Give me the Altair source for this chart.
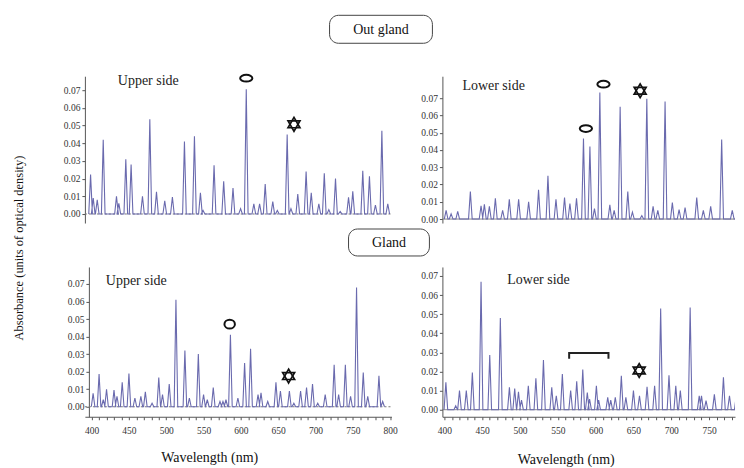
import altair as alt
import pandas as pd

# ---------------- data (wavelength nm, absorbance) ----------------
# Out gland - upper side
tl_wl = [403.5, 407, 412.3, 420.2, 437.7, 440.8, 450, 457, 472, 481.7, 490.5, 501.4, 511.5,
         527.4, 540.6, 548.5, 552, 566.5, 579.2, 591.5, 601.5, 609, 619, 626.6, 634, 644, 650,
         663, 668, 677, 688, 694.8, 704.8, 712, 718, 726.8, 733, 744, 749.6, 762.8, 771.6,
         779.5, 788, 795.8]
tl_ab = [0.0223, 0.009, 0.008, 0.042, 0.010, 0.006, 0.031, 0.028, 0.010, 0.0535, 0.0125, 0.0075,
         0.0096, 0.041, 0.044, 0.012, 0.002, 0.0276, 0.0185, 0.0147, 0.003, 0.0705, 0.0057, 0.0057,
         0.017, 0.007, 0.002, 0.045, 0.003, 0.0113, 0.024, 0.012, 0.0057, 0.023, 0.0025, 0.020,
         0.0015, 0.0095, 0.0128, 0.0245, 0.0213, 0.005, 0.047, 0.0057]

# Out gland - lower side
tr_wl = [400.9, 407.5, 416.2, 432.9, 447, 451.4, 458, 465.9, 475.5, 484.3, 496.6, 509.8, 522.9,
         535.3, 545.9, 557.2, 564.3, 573, 582.2, 590.7, 596.7, 603.8, 617, 622.7, 630.6, 640.7,
         646.8, 659.2, 665.8, 674.1, 680.3, 689.9, 699.5, 708.4, 716.3, 731.7, 740.4, 750.1,
         764.6, 778.6, 791.8]
tr_ab = [0.005, 0.003, 0.0045, 0.016, 0.0077, 0.0085, 0.0073, 0.012, 0.005, 0.0115, 0.0115, 0.010,
         0.017, 0.025, 0.0115, 0.0125, 0.009, 0.012, 0.0466, 0.042, 0.006, 0.0733, 0.0082, 0.005,
         0.065, 0.016, 0.004, 0.002, 0.0697, 0.0073, 0.005, 0.068, 0.0096, 0.0054, 0.0067, 0.0125,
         0.005, 0.0073, 0.046, 0.005, 0.054]

# Gland - upper side
bl_wl = [402, 410, 415.6, 420, 430, 434, 441, 450, 458, 466, 472, 481, 490, 495, 504, 513, 525,
         531, 543, 550, 555, 563, 572, 576, 580, 586, 596, 605, 613, 623, 627, 636, 647, 653,
         665, 671, 680, 688, 696, 703, 713, 725, 731, 740, 747, 755, 764, 770, 785, 790]
bl_ab = [0.0076, 0.0186, 0.004, 0.010, 0.0095, 0.006, 0.014, 0.019, 0.005, 0.006, 0.0085, 0.002,
         0.0167, 0.007, 0.013, 0.061, 0.032, 0.005, 0.030, 0.007, 0.004, 0.011, 0.003, 0.003, 0.004,
         0.041, 0.005, 0.025, 0.033, 0.007, 0.008, 0.003, 0.014, 0.009, 0.009, 0.002, 0.009, 0.011,
         0.013, 0.002, 0.007, 0.024, 0.007, 0.024, 0.006, 0.068, 0.0195, 0.006, 0.0177, 0.003]

# Gland - lower side
br_wl = [402, 415, 420, 429, 437, 448.5, 460, 474, 486, 493, 498, 502, 511, 521, 531, 542, 548,
         556, 567, 575, 583, 589, 592, 601, 604, 616, 620, 626, 634, 640, 650, 658, 668, 678,
         686, 697, 706, 712, 725, 737, 740, 746, 757, 769, 777, 786]
br_ab = [0.0143, 0.002, 0.010, 0.010, 0.0195, 0.067, 0.0286, 0.048, 0.0117, 0.011, 0.0094, 0.005,
         0.0125, 0.0165, 0.026, 0.0117, 0.0073, 0.0186, 0.010, 0.0148, 0.021, 0.009, 0.0056, 0.0125,
         0.005, 0.0065, 0.005, 0.0065, 0.0178, 0.0065, 0.010, 0.0073, 0.012, 0.0125, 0.053, 0.018,
         0.0125, 0.010, 0.0535, 0.0073, 0.0073, 0.0047, 0.008, 0.017, 0.0073, 0.0073]

# annotation marks (wavelength, absorbance)
tl_ring = ([609], [0.0768]); tl_star = ([672], [0.0507])
tr_ring = ([585.4, 608.6], [0.0524, 0.0781]); tr_star = ([657], [0.0743])
bl_ring = ([585], [0.0471]); bl_star = ([664], [0.0175])
br_star = ([657.6], [0.0205])
br_bracket_wl = [565, 565, 617, 617]
br_bracket_ab = [0.0266, 0.0297, 0.0297, 0.0266]

Y_TICKS = [0.0, 0.01, 0.02, 0.03, 0.04, 0.05, 0.06, 0.07]
X_TICKS = list(range(400, 801, 10))

HW = 2.4  # half width of a drawn peak (nm)
LINE = "#6a6aae"
SERIF = "Liberation Serif, Times New Roman, serif"
RING = "M-1,0A1,0.55,0,1,0,1,0A1,0.55,0,1,0,-1,0Z"
TRI_UP = "M0,-1L0.866,0.5L-0.866,0.5Z"
TRI_DOWN = "M0,1L0.866,-0.5L-0.866,-0.5Z"


def spectrum_df(wl, ab):
    rows = []
    i = 0
    for w, a in zip(wl, ab):
        for dx, v in ((-HW, 0.0), (0.0, a), (HW, 0.0)):
            rows.append({"wl": w + dx, "abs": v, "i": i})
            i += 1
    return pd.DataFrame(rows)


def star_layers(stars, X, Y):
    df = pd.DataFrame({"wl": stars[0], "abs": stars[1]})
    out = []
    for shp in (TRI_UP, TRI_DOWN):
        out.append(alt.Chart(df).mark_point(
            shape=shp, filled=False, color="#111", strokeWidth=1.7, size=190, opacity=1
        ).encode(x=X, y=Y))
    return out


def panel(wl, ab, xdom, ydom, w, h, label, lpos, xaxis=False, yoff=0,
          rings=None, ring_size=150, ring_shape=RING, stars=None, baseline_dash=None,
          extra=None):
    xs = alt.Scale(domain=xdom, nice=False, zero=False)
    ys = alt.Scale(domain=ydom, nice=False, zero=False)
    yax = alt.Axis(values=Y_TICKS, format=".2f", tickSize=3, labelPadding=2, offset=yoff,
                   grid=False, title=None)
    if xaxis:
        xax = alt.Axis(values=X_TICKS, tickSize=3, labelPadding=6, grid=False, title=None,
                       labelExpr="datum.value % 50 == 0 ? datum.label : ''", labelFlush=False)
    else:
        xax = None
    X = alt.X("wl:Q", scale=xs, axis=xax, title=None)
    Y = alt.Y("abs:Q", scale=ys, axis=yax, title=None)

    layers = []
    base = alt.Chart(pd.DataFrame({"v": [0.0]})).mark_rule(
        color="#777", strokeWidth=1, strokeDash=baseline_dash or [1, 0]
    ).encode(y=alt.Y("v:Q", scale=ys, axis=yax, title=None), x=alt.value(0), x2=alt.value(w))
    layers.append(base)
    line = alt.Chart(spectrum_df(wl, ab)).mark_line(
        color=LINE, strokeWidth=1.1, clip=True, interpolate="linear"
    ).encode(x=X, y=Y, order="i:Q")
    layers.append(line)
    lab = alt.Chart(pd.DataFrame({"t": [label]})).mark_text(
        font=SERIF, fontSize=14, align="left", baseline="middle", color="#222"
    ).encode(x=alt.value(lpos[0]), y=alt.value(lpos[1]), text="t:N")
    layers.append(lab)
    if rings:
        layers.append(alt.Chart(pd.DataFrame({"wl": rings[0], "abs": rings[1]})).mark_point(
            shape=ring_shape, filled=False, color="#111", strokeWidth=2, size=ring_size, opacity=1
        ).encode(x=X, y=Y))
    if stars:
        layers.extend(star_layers(stars, X, Y))
    if extra:
        layers.extend(extra(X, Y))
    return alt.layer(*layers).properties(width=w, height=h)


def box(x1, x2, y1, y2, text):
    r = alt.Chart(pd.DataFrame({"t": [text]})).mark_rect(
        cornerRadius=9, fill="white", stroke="#444", strokeWidth=1
    ).encode(x=alt.value(x1), x2=alt.value(x2), y=alt.value(y1), y2=alt.value(y2))
    t = alt.Chart(pd.DataFrame({"t": [text]})).mark_text(
        font=SERIF, fontSize=14, color="#111", align="center", baseline="middle"
    ).encode(x=alt.value((x1 + x2) / 2), y=alt.value((y1 + y2) / 2 + 1), text="t:N")
    return [r, t]


def free_text(x, y, text, size=14, angle=0):
    return alt.Chart(pd.DataFrame({"t": [text]})).mark_text(
        font=SERIF, fontSize=size, color="#111", align="center", baseline="middle", angle=angle
    ).encode(x=alt.value(x), y=alt.value(y), text="t:N")


def tl_extra(X, Y):
    return box(245, 348, -61, -33, "Out gland") + box(264, 345, 153, 180, "Gland") + [
        free_text(-66, 172, "Absorbance (units of optical density)", size=12.5, angle=270)]


def bl_extra(X, Y):
    return [free_text(125, 191, "Wavelength (nm)")]


def br_extra(X, Y):
    br = alt.Chart(pd.DataFrame({"wl": br_bracket_wl, "abs": br_bracket_ab,
                                 "k": list(range(len(br_bracket_wl)))})).mark_line(
        color="#222", strokeWidth=2).encode(x=X, y=Y, order="k:Q")
    return [br, free_text(124, 193, "Wavelength (nm)")]


TL = panel(tl_wl, tl_ab, [396, 802], [-0.0051, 0.0779], 308, 147, "Upper side", (33, 5),
           rings=tl_ring, stars=tl_star, baseline_dash=[2, 2], extra=tl_extra)
TR = panel(tr_wl, tr_ab, [396, 782.2], [-0.0023, 0.0827], 293, 147, "Lower side", (20, 10),
           rings=tr_ring, stars=tr_star)
BL = panel(bl_wl, bl_ab, [391.0, 801.8], [-0.0057, 0.0797], 307, 150, "Upper side", (21, 14),
           xaxis=True, yoff=-4, rings=bl_ring, ring_size=110,
           ring_shape="M-1,0A1,0.85,0,1,0,1,0A1,0.85,0,1,0,-1,0Z",
           stars=bl_star, baseline_dash=[2, 2], extra=bl_extra)
BR = panel(br_wl, br_ab, [397.4, 784.3], [-0.0037, 0.0747], 293, 150, "Lower side", (65, 13),
           xaxis=True, stars=br_star, extra=br_extra)

chart = alt.concat(TL, TR, BL, BR, columns=2, spacing={"row": 44, "column": 50},
                   bounds="flush").properties(
    padding={"left": 5, "top": 6, "right": 0, "bottom": 0}
).configure_view(stroke=None).configure_axis(
    labelFont=SERIF, labelFontSize=9.5, labelColor="#333", domainColor="#555", tickColor="#555",
    domainWidth=1
).resolve_scale(x="independent", y="independent")

chart.save("out.html", embed_options={"renderer": "svg", "actions": False})
